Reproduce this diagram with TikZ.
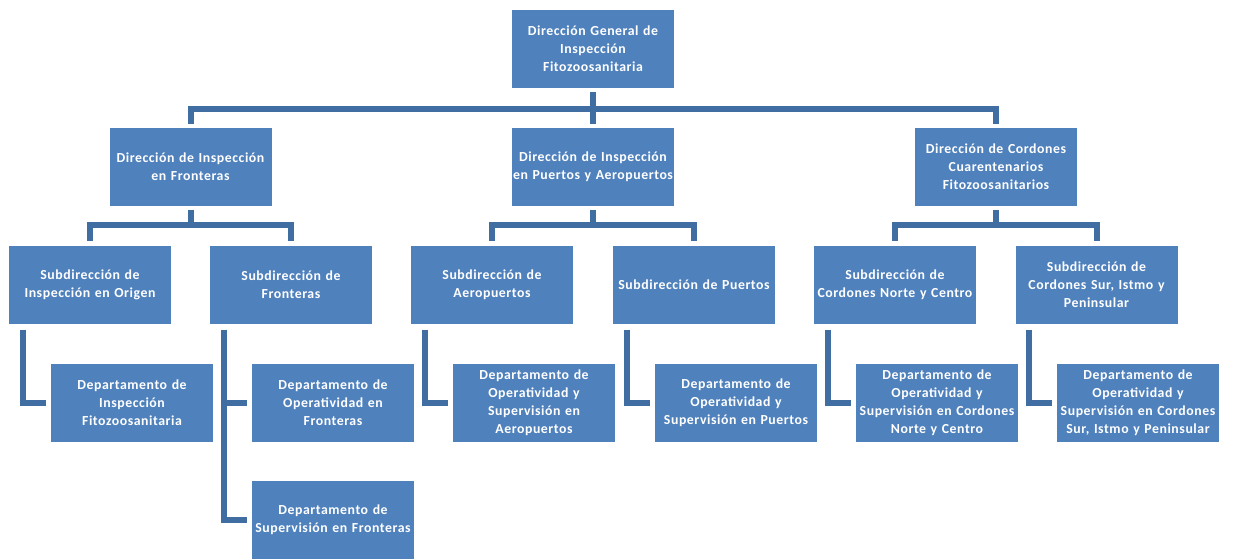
\documentclass[tikz,border=0pt]{standalone}
\usepackage{fontspec}
\setmainfont{Carlito}
\newfontfamily\boxfont[LetterSpace=4]{Carlito}
\definecolor{boxblue}{RGB}{79,129,189}
\definecolor{connblue}{RGB}{64,110,162}
\begin{document}
\begin{tikzpicture}[x=1pt,y=-1pt,
  orgbox/.style={fill=boxblue,draw=none,minimum width=162pt,minimum height=78pt,
    text width=162pt,align=center,inner sep=0pt,text=white,
    font=\boxfont\bfseries\fontsize{13.8}{18}\selectfont},
  conn/.style={draw=connblue,line width=6pt,line join=miter}]
\useasboundingbox (0,0) rectangle (1233,558);
% nodes
\node[orgbox] (top) at (593,49) {Dirección General de\\Inspección\\Fitozoosanitaria};
\node[orgbox] (d1) at (190.5,167) {Dirección de Inspección\\en Fronteras};
\node[orgbox] (d2) at (593,167) {Dirección de Inspección\\en Puertos y Aeropuertos};
\node[orgbox] (d3) at (996,167) {Dirección de Cordones\\Cuarentenarios\\Fitozoosanitarios};
\node[orgbox] (sA) at (90,284.5) {Subdirección de\\Inspección en Origen};
\node[orgbox] (sB) at (291,284.5) {Subdirección de\\Fronteras};
\node[orgbox] (sC) at (492,284.5) {Subdirección de\\Aeropuertos};
\node[orgbox] (sD) at (694,284.5) {Subdirección de Puertos};
\node[orgbox] (sE) at (895,284.5) {Subdirección de\\Cordones Norte y Centro};
\node[orgbox] (sF) at (1096.5,284.5) {Subdirección de\\Cordones Sur, Istmo y\\Peninsular};
\node[orgbox] (pA) at (132,402.5) {Departamento de\\Inspección\\Fitozoosanitaria};
\node[orgbox] (pB) at (333,402.5) {Departamento de\\Operatividad en\\Fronteras};
\node[orgbox] (pB2) at (333,520) {Departamento de\\Supervisión en Fronteras};
\node[orgbox] (pC) at (534,402.5) {Departamento de\\Operatividad y\\Supervisión en\\Aeropuertos};
\node[orgbox] (pD) at (736,402.5) {Departamento de\\Operatividad y\\Supervisión en Puertos};
\node[orgbox] (pE) at (937,402.5) {Departamento de\\Operatividad y\\Supervisión en Cordones\\Norte y Centro};
\node[orgbox] (pF) at (1138,402.5) {Departamento de\\Operatividad y\\Supervisión en Cordones\\Sur, Istmo y Peninsular};
% tree connectors level 1
\foreach \c in {d1,d2,d3}
  \draw[conn] ([yshift=-4pt]top.south) -- ++(0,17) -| ([yshift=4pt]\c.north);
% level 2
\foreach \p/\c in {d1/sA,d1/sB,d2/sC,d2/sD,d3/sE,d3/sF}
  \draw[conn] ([yshift=-4pt]\p.south) -- ++(0,15) -| ([yshift=4pt]\c.north);
% elbow connectors
\foreach \p/\c in {sA/pA,sB/pB,sC/pC,sD/pD,sE/pE,sF/pF,sB/pB2}
  \draw[conn] ([xshift=14pt,yshift=-6pt]\p.south west) |- ([xshift=-5pt]\c.west);
\end{tikzpicture}
\end{document}
